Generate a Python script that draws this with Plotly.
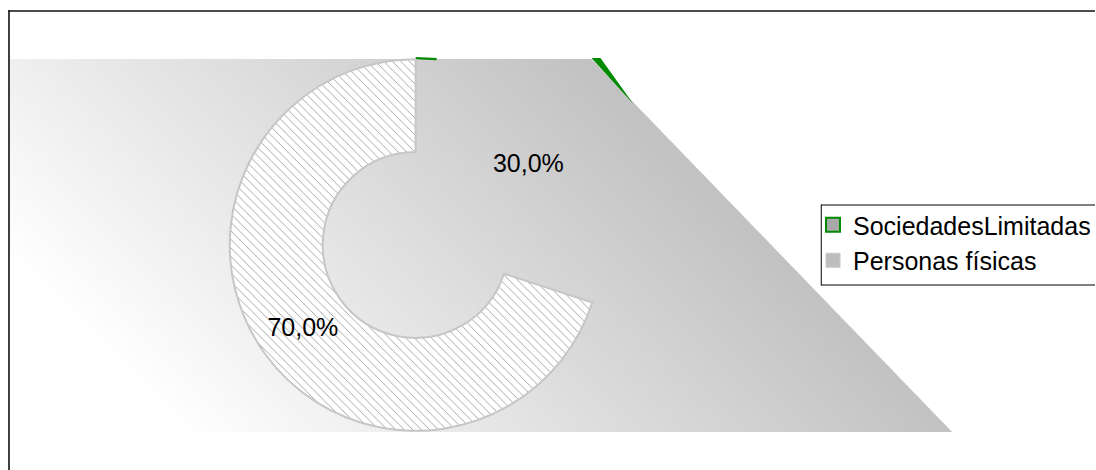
import plotly.graph_objects as go

# ---- data ----
labels = ["SociedadesLimitadas", "Personas físicas"]
values = [30, 70]

# ---- figure geometry (pixels) ----
W, H = 1096, 470
CX, CY, R = 416, 245, 186          # donut centre and outer radius
POLY_TOP, POLY_BOT, POLY_LEFT = 59, 432, 10
DIAG_X0, DIAG_X1 = 592, 953        # diagonal edge of the background wedge

fig = go.Figure()

def xr(y):
    return DIAG_X0 + (y - POLY_TOP) * (DIAG_X1 - DIAG_X0) / (POLY_BOT - POLY_TOP)

N = 32
step = (POLY_BOT - POLY_TOP) / N
for i in range(N):
    ya = POLY_TOP + i * step
    yb = POLY_TOP + (i + 1) * step
    ybo = min(yb + 0.8, POLY_BOT)
    ym = (ya + yb) / 2
    fig.add_trace(go.Scatter(
        x=[POLY_LEFT, xr(ya), xr(ybo), POLY_LEFT, POLY_LEFT],
        y=[ya, ya, ybo, ybo, ya],
        mode="lines", line=dict(width=0), fill="toself",
        fillgradient=dict(type="horizontal",
                          colorscale=[[0, "#ffffff"], [1, "#c2c2c2"]],
                          start=ym - 250, stop=ym + 520),
        showlegend=False, hoverinfo="skip"))

fig.add_trace(go.Scatter(
    x=[DIAG_X0, DIAG_X0 + 9, DIAG_X0 + 42, DIAG_X0],
    y=[POLY_TOP - 1, POLY_TOP - 1, POLY_TOP + 45, POLY_TOP - 1],
    mode="lines", line=dict(width=0, color="#008a00"), fill="toself",
    fillcolor="#008a00", showlegend=False, hoverinfo="skip"))
fig.add_trace(go.Scatter(
    x=[CX, CX + 21], y=[CY - R - 0.8, CY - R + 0.2],
    mode="lines", line=dict(width=2.2, color="#008a00"),
    showlegend=False, hoverinfo="skip"))

fig.add_trace(go.Pie(
    labels=labels, values=values, sort=False, direction="clockwise",
    rotation=0, hole=0.5,
    domain=dict(x=[(CX - R) / W, (CX + R) / W],
                y=[(H - CY - R) / H, (H - CY + R) / H]),
    marker=dict(colors=["rgba(0,0,0,0)", "rgba(255,255,255,0.25)"],
                line=dict(color=["rgba(0,0,0,0)", "#c6c6c6"], width=[0, 2]),
                pattern=dict(shape=["", "\\"], fgcolor="#858585",
                             size=6, solidity=0.12)),
    texttemplate="%{percent:.1%}", textposition="inside",
    insidetextorientation="horizontal",
    textfont=dict(family="Liberation Sans, Arial", size=25, color="#000000"),
    showlegend=False, hoverinfo="label+percent"))

leg_fill = ["#a9a9a9", "#bdbdbd"]
leg_line = ["#008a00", "#c8c8c8"]
leg_lw = [2, 1]
for lab, fc, lc, lw in zip(labels, leg_fill, leg_line, leg_lw):
    fig.add_trace(go.Scatter(
        x=[None], y=[None], mode="markers", name=lab,
        marker=dict(symbol="square", size=14, color=fc,
                    line=dict(color=lc, width=lw))))

fig.update_layout(
    width=W, height=H,
    margin=dict(l=0, r=0, t=0, b=0),
    paper_bgcolor="white", plot_bgcolor="white",
    separators=",.",
    xaxis=dict(range=[0, W], visible=False, fixedrange=True, showline=False),
    yaxis=dict(range=[H, 0], visible=False, fixedrange=True, showline=False),
    uniformtext=dict(minsize=25, mode="show"),
    showlegend=True,
    legend=dict(x=814 / W, xanchor="left", y=1 - 202 / H, yanchor="top",
                bgcolor="rgba(0,0,0,0)", borderwidth=0,
                font=dict(family="Liberation Sans, Arial", size=25, color="#000000"),
                itemwidth=30),
    shapes=[
        dict(type="rect", xref="paper", yref="paper",
             x0=1089 / W, x1=1.05, y0=-0.05, y1=1.05,
             fillcolor="white", line=dict(width=0), layer="above"),
        dict(type="line", xref="x", yref="y", x0=9, y0=H + 5, x1=9, y1=10.2,
             line=dict(color="#111111", width=1.6), layer="above"),
        dict(type="line", xref="x", yref="y", x0=8.2, y0=11, x1=W + 10, y1=11,
             line=dict(color="#111111", width=1.6), layer="above"),
        dict(type="line", xref="x", yref="y", x0=822, y0=205, x1=W + 10, y1=205,
             line=dict(color="#000000", width=1), layer="above"),
        dict(type="line", xref="x", yref="y", x0=822, y0=285, x1=W + 10, y1=285,
             line=dict(color="#000000", width=1), layer="above"),
        dict(type="line", xref="x", yref="y", x0=822, y0=204.5, x1=822, y1=285.5,
             line=dict(color="#000000", width=1), layer="above"),
    ],
)

fig.write_html("out.html", config={"displayModeBar": False})
